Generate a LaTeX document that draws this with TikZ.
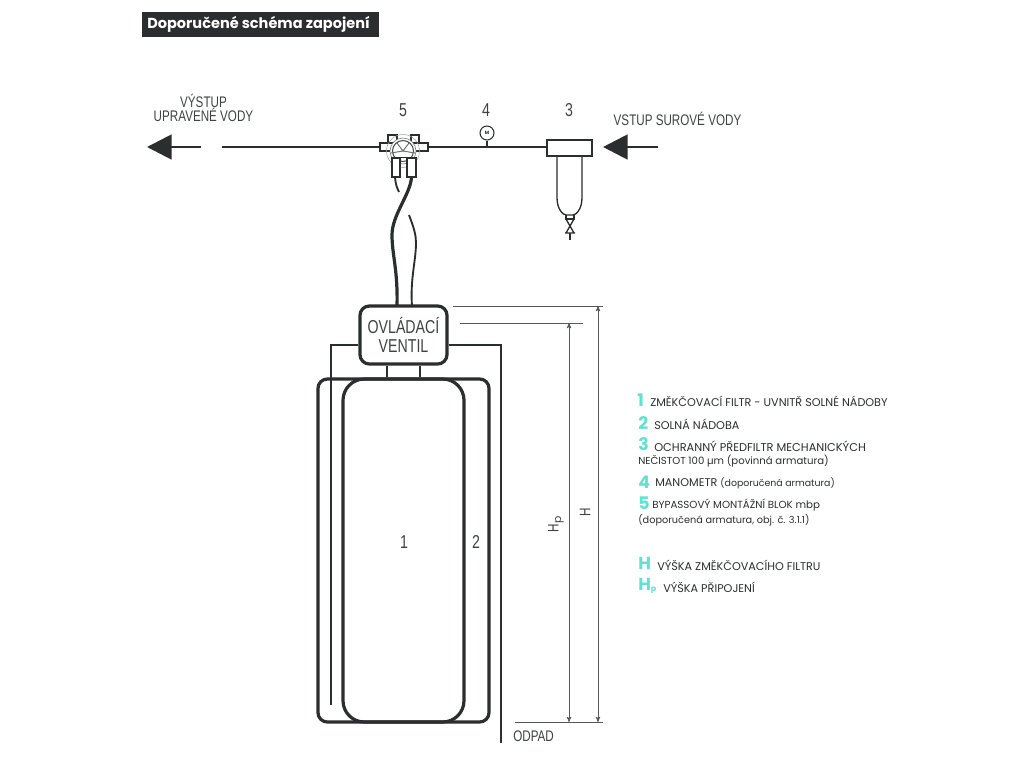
\documentclass[tikz,border=0pt]{standalone}
\usepackage{fontspec}
\usetikzlibrary{arrows,arrows.meta}
\setmainfont{Poppins}
\newfontfamily\drawfont[FakeStretch=0.76]{Liberation Sans}
\definecolor{ink}{HTML}{2B2E2E}
\definecolor{mint}{HTML}{5FE3D0}

\begin{document}
\begin{tikzpicture}[x=0.75pt,y=-0.75pt,ink,
    pipe/.style={draw=ink,line width=1.7pt},
    thin pipe/.style={draw=ink,line width=1pt},
    hose/.style={draw=ink,line width=2.4pt},
    vessel/.style={draw=ink,line width=2.4pt,rectangle,rounded corners=#1,inner sep=0pt},
    part/.style={draw=ink,line width=.8pt,fill=white,rectangle,inner sep=0pt},
    bigarrow/.style={draw=ink,line width=2.2pt,-{Triangle[length=18.5pt,width=18.5pt]}},
    dim/.style={draw=ink!80,line width=.5pt},
    dimarrow/.style={<->,>=stealth',draw=ink!80,line width=.5pt},
    draw label/.style={font=\drawfont\fontsize{11.5}{13}\selectfont,text=ink!90,inner sep=0pt,align=center},
    number/.style={font=\drawfont\fontsize{14}{14}\selectfont,text=ink!90,inner sep=0pt},
    legend/.style={font=\fontsize{8.4}{10}\selectfont,text=ink,anchor=west,inner sep=0pt},
    key/.style={font=\bfseries\fontsize{13}{13}\selectfont,text=mint,anchor=west,inner sep=0pt}]
  \useasboundingbox (0,0) rectangle (1024,768);

  % title
  \node[fill=ink,text=white,font=\bfseries\fontsize{10.9}{12}\selectfont,minimum width=177.75pt,
        minimum height=18.75pt,inner sep=0pt] (title) at (260.5,24.5) {\hspace*{-3pt}Doporučené schéma zapojení};

  % vessels
  \node[vessel=7pt,minimum width=128.25pt,minimum height=257.25pt] (T) at (403.5,550.5) {};
  \node[vessel=16pt,minimum width=90.75pt,minimum height=257.25pt] (N) at (403.5,550.5) {};
  \node[vessel=7pt,fill=white,minimum width=65.25pt,minimum height=43.5pt,align=center,
        font=\drawfont\fontsize{14}{14}\selectfont,text=ink!90] (V) at (403.5,335) {OVLÁDACÍ\\[.6pt]VENTIL};

  % pipe parts
  \node[part,minimum width=33.75pt,minimum height=12pt] (F) at (569.5,148) {};
  \node[part,circle,minimum size=10.5pt,font=\fontsize{3.5}{4}\selectfont\bfseries] (M) at (487,133) {M};

  % bypass block
  \node[part,minimum width=36pt,minimum height=6pt] (B) at (404,147) {};
  \node[part,minimum width=6.75pt,minimum height=6pt] (Ba) at (392.5,139) {};
  \node[part,minimum width=6pt,minimum height=6pt] (Bb) at (415,139) {};
  \draw[ink!45,line width=.4pt] (403,151) circle (16.5);
  \draw[ink!60,line width=.5pt,fill=white] (403,151) circle (13);
  \draw[ink!85,line width=.8pt] (403,151) circle (10.5);
  \draw[ink!70,line width=.7pt] (397,143) -- (403,151) -- (409,143) (391,153) -- (403,151) -- (415,153);
  \fill[ink!60] (403,150) circle (1);
  \node[part,minimum width=6pt,minimum height=14.25pt] (Pa) at (396,167.5) {};
  \node[part,minimum width=6.75pt,minimum height=14.25pt] (Pb) at (411.5,167.5) {};
  \draw[ink,line width=.8pt] (Pa.north east) -- (Pb.north west);

  % pipes
  \coordinate (outL) at (222,147);
  \draw[pipe] (outL) -- (B.west);
  \draw[pipe] (B.east) -- (B.east -| F.west);
  \draw[thin pipe] (M.south) -- (487,147);
  \coordinate (outA) at (201,147);
  \coordinate (outB) at (147,147);
  \coordinate (inA) at (658,147);
  \coordinate (inB) at (603,147);
  \draw[bigarrow] (outA) -- (outB);
  \draw[bigarrow] (inA) -- (inB);

  % filter bowl and drain valve
  \draw[thin pipe] (557,156) -- (557,198) .. controls (557,209) and (563,215) .. (566,215)
     -- (573,215) .. controls (576,215) and (582,209) .. (582,198) -- (582,156);
  \draw[thin pipe] (566,215) -- (566,219) -- (574,219) -- (574,215);
  \draw[thin pipe] (566,219) -- (574,233) -- (565,233) -- (575,233) -- (574,233) (574,219) -- (566,233);
  \draw[thin pipe,line width=1.5pt] (570,233) -- (570,240);

  % hoses
  \draw[hose] (Pb.south) .. controls (410,195) and (392,215) .. (392,235)
     .. controls (392,255) and (398,270) .. (397,306);
  \draw[thin pipe,line width=1.4pt] (395,177) .. controls (395.5,184) and (397,188) .. (399,192);
  \draw[thin pipe,line width=1.4pt] (409,215) .. controls (414,228) and (416,235) .. (416,243)
     .. controls (416,260) and (410,280) .. (412,306);

  % connections to the valve
  \draw[thin pipe,line width=1.4pt] (V.south -| 387,0) -- (T.north -| 387,0);
  \draw[thin pipe,line width=1.4pt] (V.south -| 420,0) -- (T.north -| 420,0);
  \coordinate (tubeL) at (331,705);
  \coordinate (tubeR) at (501,743);
  \draw[thin pipe,line width=1.3pt] (V.west |- 0,345) -| (tubeL);
  \draw[thin pipe,line width=1.3pt] (V.east |- 0,345) -| (tubeR);

  % dimensions
  \coordinate (topH) at (598,306);
  \coordinate (topP) at (569,323);
  \coordinate (botH) at (598,722);
  \coordinate (botP) at (569,722);
  \draw[dim] (453,306) -- (603,306);
  \draw[dim] (460,323) -- (583,323);
  \draw[dim] (515,722) -- (603,722);
  \draw[dimarrow] (topH) -- (botH);
  \draw[dimarrow] (topP) -- (botP);
  \node[draw label,rotate=90] (lH) at (585,512) {H};
  \node[draw label,rotate=90] (lP) at (556,524) {H$_{\mathrm{p}}$};

  % labels
  \node[number] (l5) at (403,110) {5};
  \node[number] (l4) at (486,110) {4};
  \node[number] (l3) at (569,110) {3};
  \node[number] (l1) at (404,542) {1};
  \node[number] (l2) at (476,542) {2};
  \node[draw label] (lOut) at (203.5,108) {VÝSTUP\\[-2.5pt]UPRAVENÉ VODY};
  \node[draw label] (lIn) at (677.5,119) {VSTUP SUROVÉ VODY};
  \node[draw label,anchor=west] (lDrain) at (513,736) {ODPAD};

  % legend
  \node[key] (k1) at (637,400) {1};
  \node[legend] (t1) at (650,401) {ZMĚKČOVACÍ FILTR - UVNITŘ SOLNÉ NÁDOBY};
  \node[key] (k2) at (638,423) {2};
  \node[legend] (t2) at (654,424) {SOLNÁ NÁDOBA};
  \node[key] (k3) at (638,444) {3};
  \node[legend,font=\fontsize{8.5}{10}\selectfont] (t3) at (654,446) {OCHRANNÝ PŘEDFILTR MECHANICKÝCH};
  \node[legend,font=\fontsize{7.6}{10}\selectfont] (t3b) at (638,461) {NEČISTOT 100 µm (povinná armatura)};
  \node[key] (k4) at (638,482) {4};
  \node[legend] (t4) at (655,483) {MANOMETR {\fontsize{7.05}{10}\selectfont(doporučená armatura)}};
  \node[key] (k5) at (638,503) {5};
  \node[legend,font=\fontsize{7.7}{10}\selectfont] (t5) at (652,505) {BYPASSOVÝ MONTÁŽNÍ BLOK mbp};
  \node[legend,font=\fontsize{7.3}{10}\selectfont] (t5b) at (638,520) {(doporučená armatura, obj. č. 3.1.1)};
  \node[key] (kH) at (638,563) {H};
  \node[legend] (tH) at (657,565) {VÝŠKA ZMĚKČOVACÍHO FILTRU};
  \node[key] (kP) at (638,586) {H\raisebox{-.5pt}{\fontsize{6}{6}\selectfont p}};
  \node[legend] (tP) at (663,587) {VÝŠKA PŘIPOJENÍ};
\end{tikzpicture}
\end{document}
